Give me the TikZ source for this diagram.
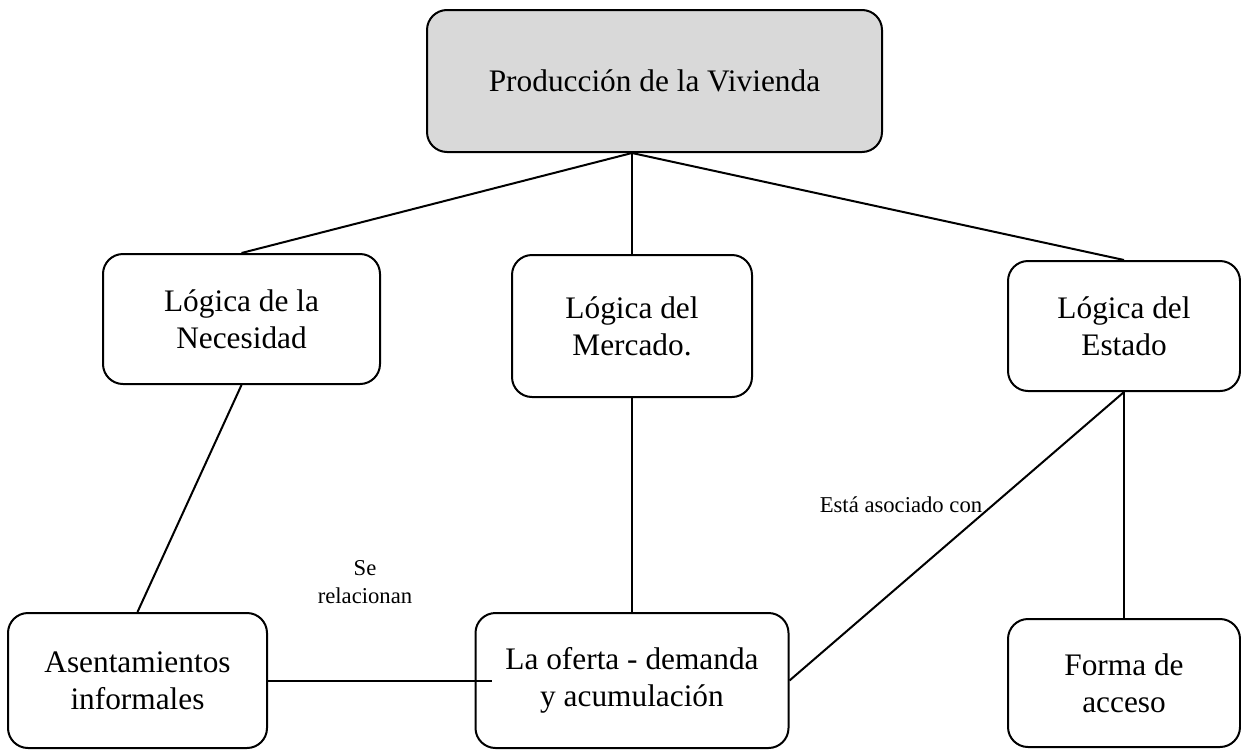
\documentclass[tikz,border=0pt]{standalone}
\usepackage{fontspec}
\setmainfont{Liberation Serif}
\usetikzlibrary{calc}

\definecolor{fondo}{RGB}{217,217,217}
\tikzset{every picture/.style={line width=0.75pt}}
\tikzset{
  caja/.style={draw, line width=1.5pt, rounded corners=15pt, align=center, inner sep=0pt, font=\fontsize{23.5}{28}\selectfont},
  nota/.style={align=center, inner sep=0pt, font=\fontsize{17}{20.5}\selectfont},
  enlace/.style={line width=1.5pt}
}

\begin{document}
\begin{tikzpicture}[x=0.75pt,y=0.75pt,yscale=-1,xscale=1]
	\useasboundingbox (0,0) rectangle (1241,750);

	%Rounded Rect
	\node [caja, fill=fondo, minimum width=341.25pt, minimum height=106.5pt] (prod) at (654.5,81) {Producción de la Vivienda};
	%Rounded Rect
	\node [caja, minimum width=207.75pt, minimum height=97.5pt] (necesidad) at (241.5,319) {Lógica de la\\Necesidad};
	%Rounded Rect
	\node [caja, minimum width=180pt, minimum height=106.5pt] (mercado) at (632,326) {Lógica del\\Mercado.};
	%Rounded Rect
	\node [caja, minimum width=174pt, minimum height=97.5pt] (estado) at (1124,326) {Lógica del\\Estado};
	%Rounded Rect
	\node [caja, minimum width=194.25pt, minimum height=101.25pt] (asent) at (137.5,680.5) {Asentamientos\\informales};
	%Rounded Rect
	\node [caja, minimum width=234.75pt, minimum height=101.25pt] (oferta) at (632,680.5) {La oferta - demanda\\y acumulación};
	%Rounded Rect
	\node [caja, minimum width=174pt, minimum height=96pt] (acceso) at (1124,683) {Forma de\\acceso};

	\coordinate (prodBase) at (prod.south -| mercado.north);
	\coordinate (ofertaIn) at ($(oferta.west)+(17,0)$);

	%Straight Lines
	\draw [enlace] (prodBase) -- (necesidad.north);
	\draw [enlace] (prodBase) -- (mercado.north);
	\draw [enlace] (prodBase) -- (estado.north);
	\draw [enlace] (necesidad.south) -- (asent.north);
	\draw [enlace] (mercado.south) -- (oferta.north);
	\draw [enlace] (estado.south) -- (acceso.north);
	\draw [enlace] (asent.east) -- (ofertaIn);
	\draw [enlace] (oferta.east) -- (estado.south);

	% Text Node
	\node [nota] (serel) at (365,582) {Se\\relacionan};
	% Text Node
	\node [nota] (asoc) at (901,505) {Está asociado con};

\end{tikzpicture}
\end{document}
